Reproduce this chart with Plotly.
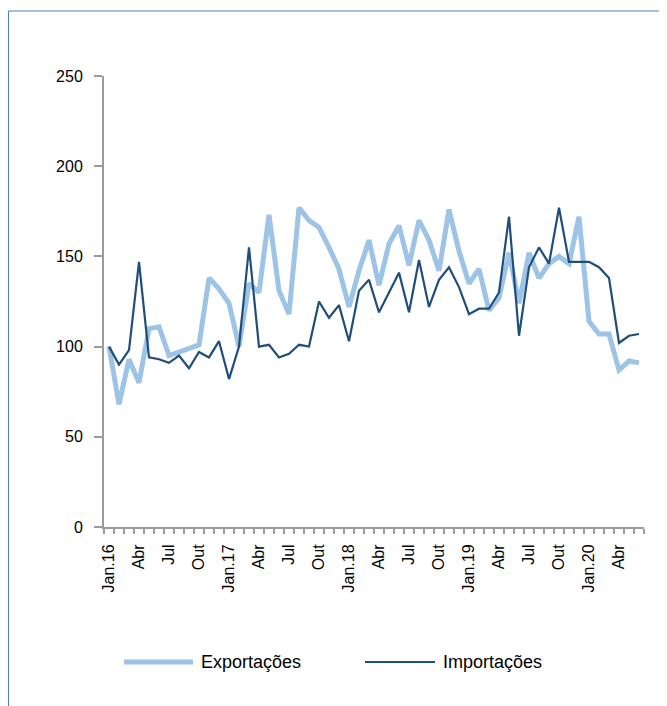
import plotly.graph_objects as go

# ---- data ----
years = ["16", "17", "18", "19", "20"]
month_names = ["Jan", "Fev", "Mar", "Abr", "Mai", "Jun", "Jul", "Ago", "Set", "Out", "Nov", "Dez"]
months = [f"{m}.{y}" for y in years for m in month_names][:54]  # Jan.16 .. Jun.20

exportacoes = [100, 68, 93, 80, 110, 111, 95, 97, 99, 101, 138, 132, 124, 100,
               135, 130, 173, 131, 118, 177, 170, 166, 155, 143, 122, 142,
               159, 134, 157, 167, 145, 170, 159, 142, 176, 153, 135, 143,
               120, 127, 152, 124, 152, 138, 146, 150, 146, 172, 114, 107,
               107, 87, 92, 91]
importacoes = [100, 90, 98, 147, 94, 93, 91, 95, 88, 97, 94, 103, 82, 100,
               155, 100, 101, 94, 96, 101, 100, 125, 116, 123, 103, 131,
               137, 119, 130, 141, 119, 148, 122, 137, 144, 133, 118, 121,
               121, 130, 172, 106, 144, 155, 146, 177, 147, 147, 147, 144,
               138, 102, 106, 107]

series_names = ["Exportações", "Importações"]
tick_idx = list(range(0, len(months), 3))
tick_text = ["Jan.16", "Abr", "Jul", "Out", "Jan.17", "Abr", "Jul", "Out",
             "Jan.18", "Abr", "Jul", "Out", "Jan.19", "Abr", "Jul", "Out",
             "Jan.20", "Abr"]
y_ticks = [0, 50, 100, 150, 200, 250]

# ---- styling ----
light = "#9DC3E6"
dark = "#1F4E79"
axis_gray = "#9B9B9B"
font_family = "Liberation Sans, Arial, sans-serif"

x = list(range(len(months)))

fig = go.Figure()
fig.add_trace(go.Scatter(x=x, y=exportacoes, mode="lines", name=series_names[0],
                         line=dict(color=light, width=5), customdata=months,
                         hovertemplate="%{customdata}: %{y}<extra></extra>"))
fig.add_trace(go.Scatter(x=x, y=importacoes, mode="lines", name=series_names[1],
                         line=dict(color=dark, width=2.2), customdata=months,
                         hovertemplate="%{customdata}: %{y}<extra></extra>"))

# page has an 8px body margin; figure coordinates below are page - 8
OFF = 8
W, H = 667 - OFF, 706 - OFF
L, R, T, B = 104 - OFF, 23, 76 - OFF, 179
pw, ph = W - L - R, H - T - B


def px(xp):
    return (xp - OFF - L) / pw


def py(yp):
    return (H - B - (yp - OFF)) / ph


fig.update_layout(
    width=W, height=H,
    margin=dict(l=L, r=R, t=T, b=B, pad=0),
    paper_bgcolor="white", plot_bgcolor="white",
    showlegend=False,
    font=dict(family=font_family, size=16, color="#000000"),
    xaxis=dict(
        range=[-0.5, len(months) - 0.5],
        tickmode="array", tickvals=tick_idx, ticktext=tick_text,
        tickangle=-90, ticks="", showgrid=False, zeroline=False,
        showline=True, linecolor=axis_gray, linewidth=2,
        ticklabelstandoff=9,
        tickfont=dict(size=16, family=font_family),
        minor=dict(tickmode="linear", tick0=-0.5, dtick=1, ticks="outside",
                   ticklen=5, tickwidth=1.5, tickcolor=axis_gray, showgrid=False),
    ),
    yaxis=dict(
        range=[0, 250], tickmode="array", tickvals=y_ticks,
        ticks="outside", ticklen=8, tickwidth=2, tickcolor=axis_gray,
        showline=True, linecolor=axis_gray, linewidth=2,
        showgrid=False, zeroline=False, ticklabelstandoff=8,
        tickfont=dict(size=16, family=font_family),
    ),
)

# outer frame (partially visible, like the source)
fig.add_shape(type="rect", xref="paper", yref="paper",
              x0=px(8.5), x1=px(720), y0=py(760), y1=py(11),
              line=dict(color="#4F81BD", width=1), fillcolor="rgba(0,0,0,0)", layer="below")

# manual legend
leg_y = py(662)
fig.add_shape(type="line", xref="paper", yref="paper",
              x0=px(124), x1=px(193), y0=leg_y, y1=leg_y,
              line=dict(color=light, width=5))
fig.add_shape(type="line", xref="paper", yref="paper",
              x0=px(365), x1=px(435), y0=leg_y, y1=leg_y,
              line=dict(color=dark, width=2.2))
fig.add_annotation(xref="paper", yref="paper", x=px(199), y=leg_y,
                   text=series_names[0], showarrow=False, xanchor="left", yanchor="middle",
                   font=dict(size=18, family=font_family, color="#000000"))
fig.add_annotation(xref="paper", yref="paper", x=px(441), y=leg_y,
                   text=series_names[1], showarrow=False, xanchor="left", yanchor="middle",
                   font=dict(size=18, family=font_family, color="#000000"))

fig.write_html("out.html")
